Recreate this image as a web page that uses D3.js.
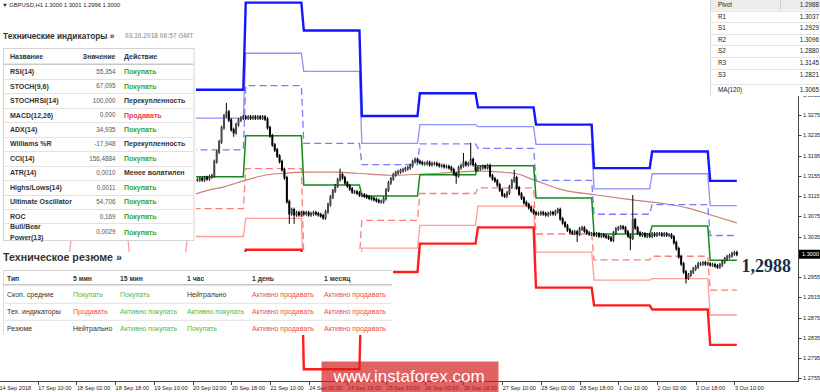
<!DOCTYPE html>
<html>
<head>
<meta charset="utf-8">
<script src="https://cdn.jsdelivr.net/npm/d3@7"></script>
<style>
  body { margin: 0; background: #fff; }
  svg { display: block; font-family: "Liberation Sans", Arial, sans-serif; }
</style>
</head>
<body>
<svg id="chart" width="820" height="392"></svg>
<script>
// ---- data ----
var firstBar = 82;
var closes = [
  1.3147,1.3149,1.3147,1.3151,1.3149,1.3153,1.3155,1.3183,1.3202,1.3222,1.3250,1.3273,
  1.3281,1.3265,1.3246,1.3240,1.3256,1.3265,1.3269,1.3271,1.3269,1.3271,1.3269,1.3271,
  1.3269,1.3271,1.3269,1.3271,1.3267,1.3250,1.3234,1.3216,1.3206,1.3194,1.3183,1.3167,
  1.3151,1.3104,1.3080,1.3088,1.3078,1.3082,1.3078,1.3082,1.3080,1.3082,1.3078,1.3080,
  1.3082,1.3080,1.3078,1.3076,1.3072,1.3084,1.3098,1.3113,1.3125,1.3135,1.3147,1.3157,
  1.3151,1.3141,1.3135,1.3129,1.3123,1.3123,1.3121,1.3117,1.3117,1.3115,1.3113,1.3111,
  1.3110,1.3108,1.3106,1.3104,1.3104,1.3110,1.3127,1.3141,1.3149,1.3157,1.3161,1.3163,
  1.3165,1.3167,1.3169,1.3171,1.3175,1.3183,1.3187,1.3183,1.3181,1.3179,1.3179,1.3181,
  1.3177,1.3179,1.3179,1.3177,1.3175,1.3175,1.3173,1.3173,1.3171,1.3167,1.3159,1.3155,
  1.3171,1.3175,1.3181,1.3177,1.3179,1.3187,1.3177,1.3167,1.3169,1.3171,1.3173,1.3171,
  1.3175,1.3155,1.3149,1.3145,1.3137,1.3127,1.3117,1.3115,1.3121,1.3133,1.3145,1.3151,
  1.3131,1.3119,1.3111,1.3102,1.3098,1.3092,1.3086,1.3082,1.3080,1.3080,1.3082,1.3080,
  1.3078,1.3080,1.3082,1.3080,1.3084,1.3088,1.3070,1.3062,1.3056,1.3048,1.3044,1.3042,
  1.3044,1.3040,1.3050,1.3052,1.3046,1.3042,1.3040,1.3040,1.3038,1.3040,1.3036,1.3038,
  1.3036,1.3034,1.3032,1.3028,1.3042,1.3050,1.3052,1.3054,1.3052,1.3044,1.3036,1.3032,
  1.3068,1.3052,1.3042,1.3038,1.3040,1.3036,1.3038,1.3036,1.3040,1.3038,1.3040,1.3040,
  1.3038,1.3040,1.3038,1.3038,1.3034,1.3023,1.3011,1.2995,1.2981,1.2965,1.2953,1.2959,
  1.2965,1.2971,1.2975,1.2981,1.2981,1.2983,1.2981,1.2981,1.2979,1.2979,1.2977,1.2975,
  1.2979,1.2985,1.2991,1.2995,1.2997,1.3001,1.3003,1.3000
];
// long wicks: [bar, high, low]
var spikes = [
  [94,1.3295,null],[97,null,1.3236],[120,1.3098,1.3064],[122,null,1.3064],
  [141,1.3165,null],[189,null,1.3143],[192,1.3196,null],[195,1.3216,null],
  [213,1.3163,null],[239,null,1.3028],[261,null,1.3012],[262,1.3113,null],
  [284,null,1.2946]
];

var maBars   = [79,87,93,101,111,118,126,140,148,162,182,199,213,221,233,247,261,275,285,294,305];
var maValues = [1.3115,1.3127,1.3133,1.3145,1.3157,1.3160,1.3162,1.3162,1.3160,1.3156,1.3160,
                1.3164,1.3160,1.3147,1.3127,1.3117,1.3108,1.3100,1.3091,1.3078,1.3062];

// daily pivot levels, each day starting at the given bar
var dayStart = [-2,30,54,78,102,126,150,174,198,222,246,270,294];
var r3 = [1.3300,1.3310,1.3290,1.3325,1.3497,1.3442,1.3273,1.3318,1.3290,1.3256,1.3170,1.3203,1.3145];
var r2 = [1.3250,1.3255,1.3235,1.3269,1.3397,1.3361,1.3219,1.3256,1.3252,1.3217,1.3129,1.3159,1.3096];
var r1 = [1.3195,1.3205,1.3180,1.3206,1.3333,1.3219,1.3177,1.3218,1.3209,1.3146,1.3079,1.3098,1.3037];
var pv = [1.3140,1.3150,1.3120,1.3153,1.3234,1.3137,1.3115,1.3157,1.3175,1.3111,1.3040,1.3056,1.2988];
var s1 = [1.3085,1.3095,1.3060,1.3090,1.3169,1.2995,1.3067,1.3120,1.3131,1.3040,1.2989,1.2996,1.2929];
var s2 = [1.2995,1.3040,1.3000,1.3035,1.3071,1.2913,1.3012,1.3057,1.3095,1.3004,1.2949,1.2952,1.2880];
var s3 = [1.2950,1.2985,1.2945,1.2974,1.3009,1.2773,1.2965,1.3021,1.3053,1.2934,1.2899,1.2891,1.2821];

// 1.2995 sits under the price box in the reference, so it is not listed
var priceTicks = [1.3315,1.3275,1.3235,1.3195,1.3155,1.3115,1.3075,1.3035,1.2955,1.2915,1.2875,1.2835,1.2795,1.2755];
var lastPrice = 1.3000;
var timeLabels = ['14 Sep 2018','17 Sep 10:00','18 Sep 02:00','18 Sep 18:00','19 Sep 10:00','20 Sep 02:00',
  '20 Sep 18:00','21 Sep 10:00','24 Sep 02:00','24 Sep 18:00','25 Sep 10:00','26 Sep 02:00','26 Sep 18:00',
  '27 Sep 10:00','28 Sep 02:00','28 Sep 18:00','1 Oct 10:00','2 Oct 02:00','2 Oct 18:00','3 Oct 10:00'];
var timeBars = [0,16,32,48,64,80,96,112,128,144,160,176,192,208,224,240,256,272,288,304];

var indNames = ['RSI(14)','STOCH(9,6)','STOCHRSI(14)','MACD(12,26)','ADX(14)','Williams %R','CCI(14)',
  'ATR(14)','Highs/Lows(14)','Ultimate Oscillator','ROC','Bull/Bear\nPower(13)'];
var indValues = ['55,354','67,095','100,000','0,000','34,935','-17,948','156,4884','0,0010','0,0011','54,706','0,169','0,0029'];
var indActions = ['Покупать','Покупать','Перекупленность','Продавать','Покупать','Перекупленность','Покупать',
  'Менее волатилен','Покупать','Покупать','Покупать','Покупать'];

var resumeCols = ['Тип','5 мин','15 мин','1 час','1 день','1 месяц'];
var resumeRows = ['Скоп. средние','Тех. индикаторы','Резюме'];
var resumeCells = [
  ['Покупать','Покупать','Нейтрально','Активно продавать','Активно продавать'],
  ['Продавать','Активно покупать','Активно покупать','Активно продавать','Активно продавать'],
  ['Нейтрально','Активно покупать','Покупать','Активно продавать','Активно продавать']
];

var pivotLabels = ['Pivot','R1','S1','R2','S2','R3','S3','MA(120)'];
var pivotValues = ['1.2988','1.3037','1.2929','1.3096','1.2880','1.3145','1.2821','1.3065'];

// ---- scales ----
var lastBar = firstBar + closes.length - 1;
var x = d3.scaleLinear().domain([0, 305]).range([-1, 736.8]);
var y = d3.scaleLinear().domain([1.2755, 1.3275]).range([378.3, 115]);

var svg = d3.select('#chart');
svg.append('defs').append('clipPath').attr('id', 'plotClip')
  .append('rect').attr('x', 0).attr('y', 0).attr('width', 798).attr('height', 381);

var plot = svg.append('g').attr('clip-path', 'url(#plotClip)');

// MA(120)
plot.append('path')
  .datum(maBars.map(function(b, k) { return [b, maValues[k]]; }))
  .attr('fill', 'none').attr('stroke', '#c98078').attr('stroke-width', 1.2)
  .attr('d', d3.line().curve(d3.curveMonotoneX).x(function(d) { return x(d[0]); }).y(function(d) { return y(d[1]); }));

// pivot levels as steps
function stepPoints(vals) {
  var pts = [];
  vals.forEach(function(v, k) {
    var a = dayStart[k];
    var b = (k + 1 < dayStart.length ? dayStart[k + 1] : lastBar + 1) - 1;
    pts.push([a, v], [b, v]);
  });
  return pts;
}
var levelLine = d3.line().x(function(d) { return x(d[0]); }).y(function(d) { return y(d[1]); });
var levels = [
  {v: s2, c: '#ff9c9c', w: 1.3},
  {v: s1, c: '#ff7c7c', w: 1.3, dash: '7,4'},
  {v: r2, c: '#8f8fff', w: 1.3},
  {v: r1, c: '#7a7aff', w: 1.3, dash: '7,4'},
  {v: pv, c: '#168a16', w: 1.5},
  {v: s3, c: '#ff1c1c', w: 2.4},
  {v: r3, c: '#1414ff', w: 2.4}
];
levels.forEach(function(l) {
  plot.append('path')
    .datum(stepPoints(l.v))
    .attr('fill', 'none').attr('stroke', l.c).attr('stroke-width', l.w)
    .attr('stroke-dasharray', l.dash || null)
    .attr('d', levelLine);
});

// candles
var bars = closes.map(function(c, k) {
  var i = firstBar + k;
  var o = k === 0 ? c : closes[k - 1];
  var hi = Math.max(o, c), lo = Math.min(o, c);
  spikes.forEach(function(s) {
    if (s[0] === i) {
      if (s[1] !== null) hi = Math.max(hi, s[1]);
      if (s[2] !== null) lo = Math.min(lo, s[2]);
    }
  });
  return {i: i, o: o, c: c, hi: hi, lo: lo};
});
var cg = plot.append('g');
cg.selectAll('line.wick').data(bars).enter().append('line')
  .attr('class', 'wick')
  .attr('x1', function(d) { return x(d.i); }).attr('x2', function(d) { return x(d.i); })
  .attr('y1', function(d) { return y(d.hi) - 2; })
  .attr('y2', function(d) { return y(d.lo) + 2; })
  .attr('stroke', '#000').attr('stroke-width', 1);
cg.selectAll('rect.body').data(bars).enter().append('rect')
  .attr('class', 'body')
  .attr('x', function(d) { return x(d.i) - 1; })
  .attr('width', 2)
  .attr('y', function(d) { return y(Math.max(d.o, d.c)) - 0.7; })
  .attr('height', function(d) { return Math.max(1.6, Math.abs(y(d.o) - y(d.c)) + 1.4); })
  .attr('fill', function(d) { return d.c >= d.o ? '#4a4a4a' : '#000'; });

// ---- axes ----
var axes = svg.append('g').attr('font-size', 5.6).attr('fill', '#222');
axes.append('line').attr('x1', 798.5).attr('x2', 798.5).attr('y1', 0).attr('y2', 382)
  .attr('stroke', '#444').attr('stroke-width', 1);
axes.append('line').attr('x1', 0).attr('x2', 798.5).attr('y1', 381.5).attr('y2', 381.5)
  .attr('stroke', '#444').attr('stroke-width', 1);
axes.selectAll('line.pt').data(priceTicks).enter().append('line')
  .attr('x1', 798.5).attr('x2', 801.5)
  .attr('y1', function(d) { return Math.round(y(d)) + 0.5; })
  .attr('y2', function(d) { return Math.round(y(d)) + 0.5; })
  .attr('stroke', '#444');
axes.selectAll('text.pt').data(priceTicks).enter().append('text')
  .attr('x', 803).attr('y', function(d) { return y(d) + 2; })
  .text(function(d) { return d.toFixed(4); });
axes.selectAll('line.tt').data(timeBars).enter().append('line')
  .attr('x1', function(d) { return Math.round(x(d)) + 0.5; })
  .attr('x2', function(d) { return Math.round(x(d)) + 0.5; })
  .attr('y1', 382).attr('y2', 385).attr('stroke', '#444');
axes.selectAll('text.tt').data(timeBars).enter().append('text')
  .attr('x', function(d) { return x(d) + 0.5; }).attr('y', 389.5)
  .text(function(d, k) { return timeLabels[k]; });

// current price box
axes.append('rect').attr('x', 799).attr('y', y(lastPrice) - 4.5).attr('width', 21).attr('height', 9).attr('fill', '#000');
axes.append('text').attr('x', 802).attr('y', y(lastPrice) + 2).attr('fill', '#fff').text(lastPrice.toFixed(4));

// big pivot value
svg.append('text').attr('x', 741.5).attr('y', 271.5)
  .attr('font-family', '"Liberation Serif", "Times New Roman", serif')
  .attr('font-weight', 'bold').attr('font-size', 18).attr('fill', '#1b2c48')
  .text(pivotValues[0].replace('.', ','));

// ---- panels ----
var green = '#3aa62a', red = '#f03c3c', dark = '#333';
function actColor(a) {
  var s = a.toLowerCase();
  if (s.indexOf('покуп') >= 0) return green;
  if (s.indexOf('продав') >= 0) return red;
  return dark;
}

// left indicators panel
var lp = svg.append('g');
lp.append('rect').attr('x', 0).attr('y', 0).attr('width', 196).attr('height', 241).attr('fill', '#fff');
lp.append('text').attr('x', 2).attr('y', 7).attr('font-size', 5.8).attr('fill', '#222')
  .text('▼ GBPUSD,H1  1.3000 1.3001 1.2996 1.3000');
lp.append('text').attr('x', 3).attr('y', 38.5).attr('font-size', 8.3).attr('font-weight', 'bold').attr('fill', '#333')
  .text('Технические индикаторы »');
lp.append('text').attr('x', 125).attr('y', 37.8).attr('font-size', 6.6).attr('font-weight', 'bold').attr('fill', '#aaa')
  .text('03.10.2018 06:57 GMT');
lp.append('rect').attr('x', 3.5).attr('y', 48.5).attr('width', 190.5).attr('height', 192)
  .attr('fill', '#fff').attr('stroke', '#d4d4d4');
var rowY0 = 71.7, rowH = 14.45;
lp.append('line').attr('x1', 4).attr('x2', 193.5).attr('y1', 64.3).attr('y2', 64.3).attr('stroke', '#c8c8c8').attr('stroke-width', 1.5);
lp.append('text').attr('x', 10).attr('y', 59.3).attr('font-size', 7).attr('font-weight', 'bold').attr('fill', dark).text('Название');
lp.append('text').attr('x', 115.5).attr('y', 59.3).attr('font-size', 7).attr('font-weight', 'bold').attr('fill', dark)
  .attr('text-anchor', 'end').text('Значение');
lp.append('text').attr('x', 124).attr('y', 59.3).attr('font-size', 7).attr('font-weight', 'bold').attr('fill', dark).text('Действие');
indNames.forEach(function(n, k) {
  var parts = n.split('\n');
  var two = parts.length > 1;
  var cy = rowY0 + k * rowH + (two ? 1.5 : 0);
  if (k > 0) {
    var sy = Math.round(rowY0 + k * rowH - rowH / 2) + 0.5;
    lp.append('line').attr('x1', 4).attr('x2', 193.5).attr('y1', sy).attr('y2', sy).attr('stroke', '#e2e2e2');
  }
  parts.forEach(function(p, j) {
    lp.append('text').attr('x', 10).attr('y', cy + 2.5 + (j - (parts.length - 1) / 2) * 10.5)
      .attr('font-size', 7).attr('font-weight', 'bold').attr('fill', dark).text(p);
  });
  lp.append('text').attr('x', 115.5).attr('y', cy + 2.3).attr('text-anchor', 'end')
    .attr('font-size', 6.3).attr('fill', '#555').text(indValues[k]);
  lp.append('text').attr('x', 124).attr('y', cy + 2.5)
    .attr('font-size', 7).attr('font-weight', 'bold').attr('fill', actColor(indActions[k])).text(indActions[k]);
});

// resume panel
var rp = svg.append('g');
rp.append('rect').attr('x', 0).attr('y', 252).attr('width', 393).attr('height', 83).attr('fill', '#fff');
rp.append('text').attr('x', 3).attr('y', 260.5).attr('font-size', 10.7).attr('font-weight', 'bold').attr('fill', '#333')
  .text('Техническое резюме »');
rp.append('line').attr('x1', 3).attr('x2', 392).attr('y1', 270.5).attr('y2', 270.5).attr('stroke', '#d0d0d0');
rp.append('line').attr('x1', 3.5).attr('x2', 3.5).attr('y1', 270.5).attr('y2', 335).attr('stroke', '#e0e0e0');
rp.append('line').attr('x1', 3).attr('x2', 392).attr('y1', 284.8).attr('y2', 284.8).attr('stroke', '#c8c8c8').attr('stroke-width', 1.5);
var colX = [7, 73, 120, 187, 252, 324];
resumeCols.forEach(function(c, k) {
  rp.append('text').attr('x', colX[k]).attr('y', 280.8).attr('font-size', 6.8).attr('font-weight', 'bold')
    .attr('fill', dark).text(c);
});
var resGreen = '#55b83a', resRed = '#f44a4a';
resumeRows.forEach(function(r, j) {
  var cy = 294.3 + j * 17;
  if (j > 0) {
    rp.append('line').attr('x1', 3).attr('x2', 392).attr('y1', cy - 8).attr('y2', cy - 8).attr('stroke', '#e2e2e2');
  }
  rp.append('text').attr('x', colX[0]).attr('y', cy + 2.5).attr('font-size', 7).attr('fill', dark).text(r);
  resumeCells[j].forEach(function(v, k) {
    var col = actColor(v);
    rp.append('text').attr('x', colX[k + 1]).attr('y', cy + 2.5).attr('font-size', 7)
      .attr('fill', col === green ? resGreen : col === red ? resRed : dark).text(v);
  });
});

// pivot table top right
var pp = svg.append('g');
pp.append('rect').attr('x', 710).attr('y', 0).attr('width', 110).attr('height', 96).attr('fill', '#fff');
pp.append('rect').attr('x', 710).attr('y', 0).attr('width', 110).attr('height', 10.4).attr('fill', '#ececec');
pp.append('line').attr('x1', 710.5).attr('x2', 710.5).attr('y1', 0).attr('y2', 96).attr('stroke', '#d8d8d8');
pp.append('line').attr('x1', 780.5).attr('x2', 780.5).attr('y1', 0).attr('y2', 10.4).attr('stroke', '#d0d0d0');
pivotLabels.forEach(function(l, k) {
  var cy = k < 7 ? 4.7 + k * 11.6 : 89.3;
  if (k > 0) {
    pp.append('line').attr('x1', 710).attr('x2', 820)
      .attr('y1', Math.round(cy - 5.8) + 0.5).attr('y2', Math.round(cy - 5.8) + 0.5).attr('stroke', '#e4e4e4');
  }
  pp.append('text').attr('x', 718).attr('y', cy + 2.2).attr('font-size', 6.3).attr('fill', '#222').text(l);
  pp.append('text').attr('x', 819).attr('y', cy + 2.2).attr('font-size', 6.3).attr('fill', '#222')
    .attr('text-anchor', 'end').text(pivotValues[k]);
});

// watermark
var wm = svg.append('g');
wm.append('rect').attr('x', 321.5).attr('y', 361.5).attr('width', 177).attr('height', 31)
  .attr('fill', 'rgba(212,32,32,0.7)');
wm.append('text').attr('x', 409).attr('y', 381.5).attr('text-anchor', 'middle')
  .attr('font-size', 17).attr('fill', '#fff').text('www.instaforex.com');
</script>
</body>
</html>
